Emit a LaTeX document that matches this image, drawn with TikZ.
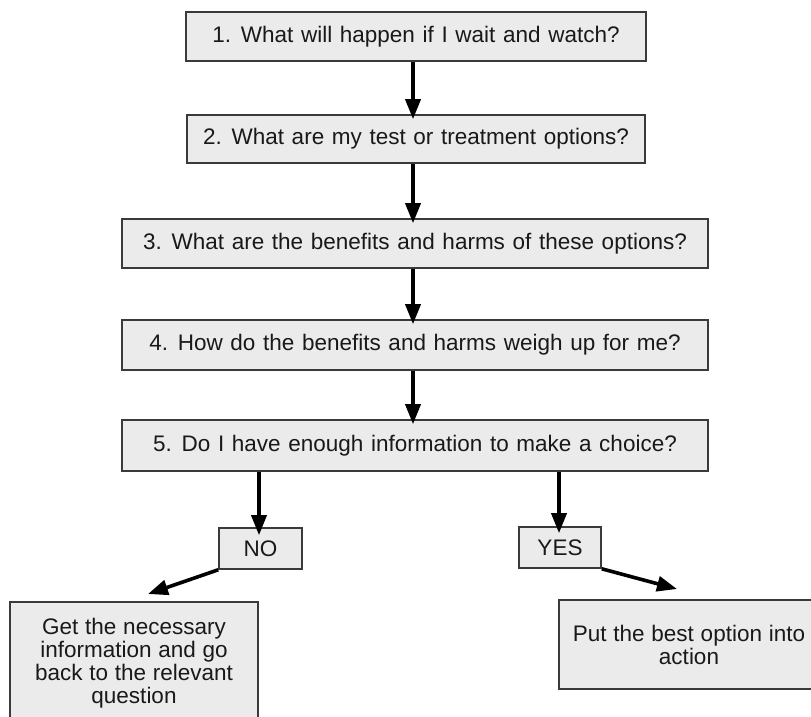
\documentclass[tikz,border=0pt]{standalone}
\usepackage{fontspec}
\setmainfont{Liberation Sans}
\usetikzlibrary{arrows.meta}
\definecolor{boxfill}{HTML}{EBEBEB}
\definecolor{boxline}{HTML}{3A3A3A}
\newcommand{\qfnt}{\fontsize{22.5}{23}\selectfont\spaceskip=0.34em\relax}
\newcommand{\afnt}{\fontsize{22.5}{23}\selectfont\spaceskip=0.3em\relax}
\begin{document}
\begin{tikzpicture}[x=1pt,y=-1pt,
  qbox/.style={draw=boxline,fill=boxfill,line width=1.6pt,inner sep=0pt,
    font=\qfnt,text=black!90},
  abox/.style={qbox,font=\afnt},
  flowarrow/.style={line width=3.6pt,-{Triangle[length=20pt,width=15pt]}}]
\useasboundingbox (0,0) rectangle (811,717);
\clip (0,0) rectangle (811,717);
\node[qbox,minimum width=460,minimum height=49] (q1) at (416,36.5) {1. What will happen if I wait and watch?};
\node[qbox,minimum width=458,minimum height=48] (q2) at (416,139) {2. What are my test or treatment options?};
\node[qbox,minimum width=586,minimum height=49] (q3) at (415,243.5) {3. What are the benefits and harms of these options?};
\node[qbox,minimum width=586,minimum height=50] (q4) at (415,345) {4. How do the benefits and harms weigh up for me?};
\node[qbox,minimum width=586,minimum height=51] (q5) at (415,445.5) {5. Do I have enough information to make a choice?};
\node[abox,minimum width=83,minimum height=41] (no) at (260.5,548.5) {NO};
\node[abox,minimum width=82,minimum height=41] (yes) at (560,547.5) {YES};
\node[abox,minimum width=248,minimum height=122,align=center] (lt) at (134,663)
  {Get the necessary\\information and go\\back to the relevant\\question};
\node[abox,minimum width=260,minimum height=89,align=center] (rt) at (689,644.5)
  {Put the best option into\\action};
\coordinate (noend) at (148,594);
\coordinate (yesend) at (677,589);
\draw[flowarrow] (q1.south -| 413,0) -- ([yshift=-5]q2.north -| 413,0);
\draw[flowarrow] (q2.south -| 413,0) -- ([yshift=-5]q3.north -| 413,0);
\draw[flowarrow] (q3.south -| 413,0) -- ([yshift=-5]q4.north -| 413,0);
\draw[flowarrow] (q4.south -| 413,0) -- ([yshift=-5]q5.north -| 413,0);
\draw[flowarrow] (q5.south -| 259,0) -- ([yshift=-8]no.north -| 259,0);
\draw[flowarrow] (q5.south -| 559,0) -- ([yshift=-7]yes.north -| 559,0);
\draw[flowarrow] (no.south west) -- (noend);
\draw[flowarrow] (yes.south east) -- (yesend);
\end{tikzpicture}
\end{document}
